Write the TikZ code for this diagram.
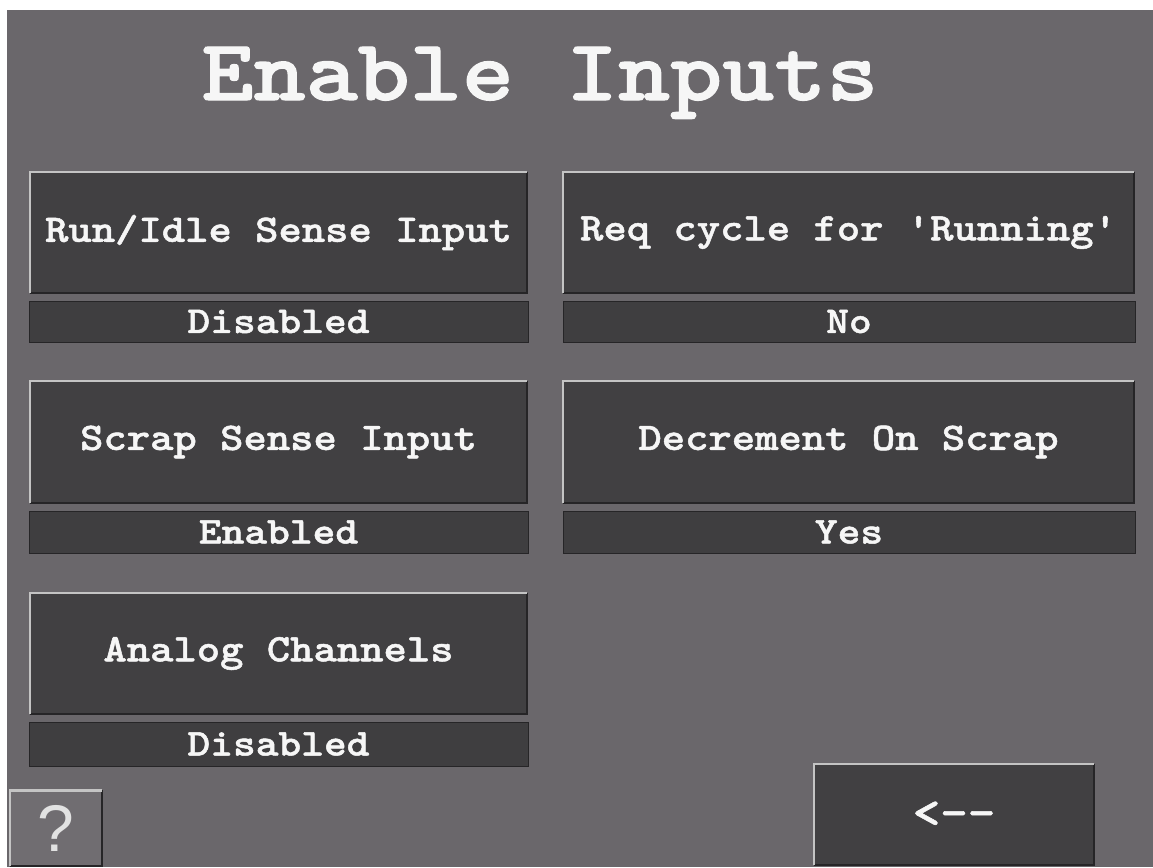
\documentclass[tikz,border=0pt]{standalone}
\usepackage{fontspec}
\newfontfamily\crt{Latin Modern Mono Light}[FakeStretch=1.14, FakeBold=1.3]
\newfontfamily\helpfont{Liberation Sans}
\definecolor{panelgray}{HTML}{6A676B}
\definecolor{btnfill}{HTML}{414042}
\definecolor{valfill}{HTML}{3F3E40}
\definecolor{hilite}{HTML}{C4C4C4}
\definecolor{shade}{HTML}{262527}
\definecolor{txtwhite}{HTML}{F6F6F6}
\tikzset{
  btn/.style={fill=btnfill, inner sep=0pt, text=txtwhite,
    font=\crt\bfseries\fontsize{39}{39}\selectfont},
  valbar/.style={fill=valfill, draw=shade, line width=1pt, inner sep=0pt, text=txtwhite,
    font=\crt\bfseries\fontsize{38}{38}\selectfont},
  hl/.style={draw=hilite, line width=2.5pt},
  sh/.style={draw=shade, line width=2pt},
}
% raised button: light edge on top/left, dark edge on bottom/right
\newcommand{\bevel}[1]{%
  \draw[sh] (#1.north east) -- (#1.south east) -- (#1.south west);
  \draw[hl] (#1.south west) -- (#1.north west) -- (#1.north east);
}
\begin{document}
\begin{tikzpicture}[x=1pt, y=-1pt]
\useasboundingbox (0,0) rectangle (1153,867);
\fill[white] (0,0) rectangle (1153,867);
\fill[panelgray] (7,10) rectangle (1153,867);

% title
\node[text=txtwhite, inner sep=0pt, anchor=base,
  font=\crt\bfseries\fontsize{87}{87}\selectfont] (title) at (540,100) {Enable Inputs};

% row 1
\node[btn, minimum width=497pt, minimum height=121pt] (b1) at (278.5,232.5) {Run/Idle Sense Input};
\node[valbar, minimum width=499pt, minimum height=41pt] (v1) at (278.5,321.5) {Disabled};
\node[btn, minimum width=571pt, minimum height=121pt] (b2) at (848.5,232.5) {Req cycle for 'Running'};
\node[valbar, minimum width=572pt, minimum height=41pt] (v2) at (849,321.5) {No};

% row 2
\node[btn, minimum width=497pt, minimum height=122pt] (b3) at (278.5,442) {Scrap Sense Input};
\node[valbar, minimum width=499pt, minimum height=42pt] (v3) at (278.5,532) {Enabled};
\node[btn, minimum width=571pt, minimum height=122pt] (b4) at (848.5,442) {Decrement On Scrap};
\node[valbar, minimum width=572pt, minimum height=42pt] (v4) at (849,532) {Yes};

% row 3
\node[btn, minimum width=497pt, minimum height=121pt] (b5) at (278.5,653.5) {Analog Channels};
\node[valbar, minimum width=499pt, minimum height=44pt] (v5) at (278.5,744) {Disabled};

% help and back buttons
\node[fill=panelgray!96!white, inner sep=0pt, minimum width=92pt, minimum height=75pt, text=txtwhite!92!black,
  font=\helpfont\fontsize{66}{66}\selectfont] (help) at (56,828) {?};
\node[btn, minimum width=280pt, minimum height=101pt,
  font=\crt\bfseries\fontsize{46}{46}\selectfont] (back) at (954,814.5) {<{-}{-}};

\bevel{b1}
\bevel{b2}
\bevel{b3}
\bevel{b4}
\bevel{b5}
\bevel{help}
\bevel{back}
\end{tikzpicture}
\end{document}
